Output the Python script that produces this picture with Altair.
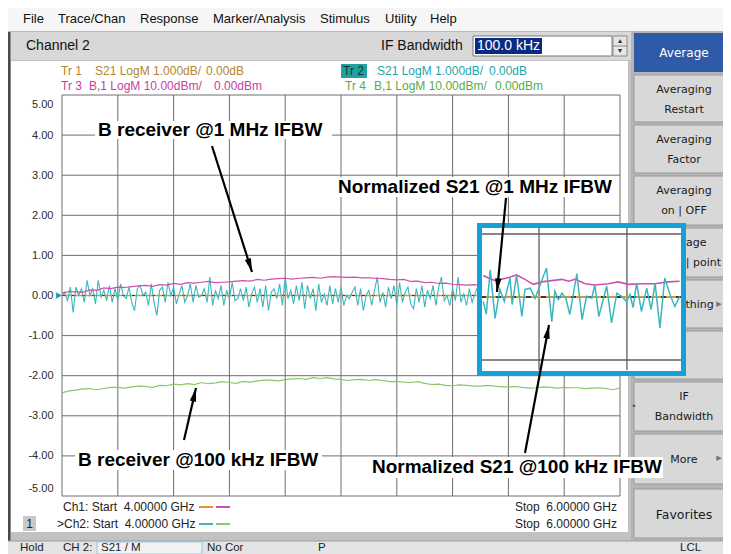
import math
import numpy as np
import pandas as pd
import altair as alt

# ------------------------------------------------------------------ values
start_ghz = 4.0
stop_ghz = 6.0
y_ticks = [5, 4, 3, 2, 1, 0, -1, -2, -3, -4, -5]
x_grid = [4.0, 4.2, 4.4, 4.6, 4.8, 5.0, 5.2, 5.4, 5.6, 5.8, 6.0]

# Tr 2 : normalized S21 (dB), 201-point sweep
tr2_part1 = [0.0, 0.08, -0.13, 0.21, -0.42, 0.21, 0.0, 0.17, -0.17, 0.38,
             0.0, 0.17, -0.21, 0.38, -0.04, 0.13, -0.13, 0.25, -0.17, 0.17,
             -0.13, 0.29, 0.0, -0.08, 0.21, -0.17, -0.38, 0.17, 0.25, 0.0,
             0.08, -0.25, 0.29, -0.17, -0.5, 0.13, 0.21, -0.17, 0.33, 0.0,
             0.21, -0.21, 0.04, 0.25, -0.17, 0.0, 0.29, -0.17, 0.25, -0.04]
tr2_part2 = [0.0, 0.17, -0.17, 0.46, -0.25, 0.13, -0.08, 0.25, -0.25, 0.13,
             -0.08, 0.33, -0.13, -0.08, 0.17, -0.13, 0.21, -0.29, 0.04, 0.21,
             -0.17, 0.17, -0.29, 0.25, -0.38, 0.08, 0.17, -0.08, 0.29, -0.25,
             0.46, -0.08, 0.13, -0.21, 0.25, -0.13, 0.33, -0.33, 0.25, -0.08,
             0.17, -0.38, 0.29, -0.17, 0.04, -0.25, 0.25, -0.21, 0.17, -0.17,
             0.21, -0.25]
tr2_part3 = [0.0, -0.08, 0.08, 0.21, -0.25, 0.17, -0.38, 0.0, 0.13, -0.25,
             0.13, 0.46, -0.17, 0.08, -0.29, 0.21, -0.08, 0.25, -0.25, 0.33,
             -0.17, 0.08, 0.21, -0.21, -0.33, 0.17, -0.17, 0.25, -0.29, 0.13,
             -0.08, 0.25, -0.25, 0.21, 0.46, -0.13, 0.0, -0.25, 0.17, -0.13,
             0.46, -0.17, 0.04, -0.25, 0.17, -0.17, 0.04, 0.21, 0.5, -0.21,
             0.13, 0.0, -0.17, 0.17, -0.08, 0.25, 0.0]
tr2_part4 = [-0.21, 0.29, -0.13, 0.17, -0.33, 0.21, 0.04, -0.25, 0.38, -0.17,
             0.08, -0.29, 0.25, -0.04, 0.13, -0.38, 0.29, -0.13, 0.21, -0.21,
             0.04, 0.33, -0.25, 0.13, -0.08, 0.25, -0.33, 0.17, -0.04, 0.21,
             -0.29, 0.08, 0.29, -0.21, 0.13, -0.17, 0.25, -0.08, 0.04, -0.25,
             0.17, 0.0]
tr2_s21 = tr2_part1 + tr2_part2 + tr2_part3 + tr2_part4

# Tr 3 : B receiver @ 1 MHz IFBW
tr3_b = [0.06, 0.10, 0.09, 0.08, 0.14, 0.13, 0.19, 0.17, 0.21, 0.20,
         0.22, 0.24, 0.25, 0.23, 0.27, 0.26, 0.30, 0.28, 0.32, 0.31,
         0.33, 0.35, 0.32, 0.33, 0.34, 0.36, 0.37, 0.36, 0.40, 0.38,
         0.41, 0.42, 0.43, 0.41, 0.43, 0.44, 0.45, 0.43, 0.46, 0.47,
         0.46, 0.45, 0.46, 0.44, 0.44, 0.43, 0.42, 0.40, 0.39, 0.40,
         0.35, 0.36, 0.32, 0.33, 0.30, 0.31, 0.28, 0.27, 0.26, 0.27,
         0.25, 0.27, 0.26, 0.28, 0.25, 0.26, 0.24, 0.27, 0.25, 0.26,
         0.24, 0.25, 0.27, 0.26, 0.25, 0.24, 0.26, 0.27, 0.25, 0.26, 0.25]

# Tr 4 : B receiver @ 100 kHz IFBW
tr4_b = [-2.43, -2.38, -2.36, -2.33, -2.32, -2.35, -2.32, -2.29, -2.29, -2.31,
         -2.28, -2.26, -2.27, -2.29, -2.24, -2.25, -2.21, -2.23, -2.20, -2.22,
         -2.17, -2.20, -2.18, -2.15, -2.17, -2.19, -2.14, -2.16, -2.13, -2.11,
         -2.11, -2.13, -2.10, -2.08, -2.07, -2.09, -2.05, -2.07, -2.05, -2.08,
         -2.09, -2.12, -2.10, -2.09, -2.12, -2.10, -2.12, -2.15, -2.14, -2.16,
         -2.17, -2.15, -2.19, -2.22, -2.21, -2.24, -2.25, -2.23, -2.24, -2.26,
         -2.26, -2.24, -2.26, -2.28, -2.28, -2.27, -2.29, -2.31, -2.30, -2.28,
         -2.29, -2.31, -2.29, -2.30, -2.30, -2.32, -2.31, -2.30, -2.32, -2.35, -2.30]

# Tr 1 : normalized S21 @ 100 kHz (flat)
tr1_freq = [4.0, 6.0]
tr1_s21 = [0.0, 0.0]

# magnified inset
inset_freq_s21 = [5.273, 5.280, 5.289, 5.300, 5.311, 5.321, 5.334, 5.339, 5.349, 5.361,
                  5.368, 5.380, 5.391, 5.417, 5.429, 5.436, 5.444, 5.452, 5.461, 5.470,
                  5.486, 5.498, 5.508, 5.520, 5.527, 5.536, 5.554, 5.565, 5.577, 5.588,
                  5.599, 5.607, 5.614, 5.622, 5.633, 5.645, 5.655, 5.664, 5.675, 5.686,
                  5.698, 5.709, 5.720]
inset_s21 = [-0.07, -0.27, 0.43, -0.34, 0.12, -0.07, 0.30, -0.12, 0.35, -0.31,
             0.12, 0.14, -0.02, 0.46, -0.39, 0.09, -0.04, 0.06, -0.02, -0.28,
             0.37, -0.36, 0.01, -0.02, 0.20, -0.31, 0.17, -0.41, 0.06, 0.01,
             -0.07, 0.04, -0.17, 0.22, -0.23, 0.14, -0.20, 0.22, -0.49, 0.30,
             0.04, -0.15, 0.01]
inset_freq_b = [5.273, 5.285, 5.300, 5.327, 5.349, 5.368, 5.387, 5.406, 5.429, 5.452,
                5.467, 5.482, 5.505, 5.527, 5.558, 5.580, 5.603, 5.633, 5.664, 5.694, 5.720]
inset_b = [0.34, 0.30, 0.26, 0.30, 0.35, 0.28, 0.20, 0.24, 0.26, 0.28,
           0.25, 0.28, 0.21, 0.19, 0.21, 0.24, 0.20, 0.21, 0.21, 0.24, 0.25]
inset_freq_span = [5.268, 5.723]
inset_db_span = [-1.159, 1.095]
inset_vgrid = [5.4, 5.6]
inset_hgrid = [-1.0, 1.0]

# ------------------------------------------------------------------ styles / layout
CYAN = "#3cb6bf"
MAGENTA = "#cf4fae"
GREEN = "#88c76c"
ORANGE = "#d8982e"
GRID = "#6e6e6e"
TR1C, TR2C, TR3C, TR4C = "#b38530", "#1fa5a8", "#c53f9f", "#55ad45"
SANS = "Liberation Sans"
UI = "DejaVu Sans"

OX, OY = 62, 95          # page position of plot-area origin
PW, PH = 558, 401         # plot area
TOTAL_W, TOTAL_H = 715, 546

ONE = pd.DataFrame({"k": [0]})


def box(x0, y0, x1, y1, fill, stroke=None, sw=1.0):
    kw = dict(fill=fill, opacity=1)
    if stroke:
        kw.update(stroke=stroke, strokeWidth=sw)
    else:
        kw.update(strokeWidth=0)
    return alt.Chart(ONE).mark_rect(**kw).encode(
        x=alt.value(x0 - OX), x2=alt.value(x1 - OX),
        y=alt.value(y0 - OY), y2=alt.value(y1 - OY))


def frame(x0, y0, x1, y1, stroke, sw):
    return alt.Chart(ONE).mark_rect(fill="transparent", stroke=stroke, strokeWidth=sw).encode(
        x=alt.value(x0 - OX), x2=alt.value(x1 - OX),
        y=alt.value(y0 - OY), y2=alt.value(y1 - OY))


def label(s, x, y, size=12, color="#111111", align="left", font=SANS, weight="normal"):
    return alt.Chart(ONE).mark_text(text=s, align=align, baseline="middle", fontSize=size,
                                    color=color, font=font, fontWeight=weight).encode(
        x=alt.value(x - OX), y=alt.value(y - OY))


def seg(x0, y0, x1, y1, color, width):
    return alt.Chart(ONE).mark_rule(color=color, strokeWidth=width).encode(
        x=alt.value(x0 - OX), y=alt.value(y0 - OY),
        x2=alt.value(x1 - OX), y2=alt.value(y1 - OY))


HEAD = "M0,0L0.4,1.7L-0.4,1.7Z"


def arrow(tail, tip):
    (x0, y0), (x1, y1) = tail, tip
    ang = math.degrees(math.atan2(x1 - x0, -(y1 - y0))) % 360
    head = alt.Chart(ONE).mark_point(shape=HEAD, size=256, filled=True, color="black",
                                     opacity=1, angle=ang).encode(
        x=alt.value(x1 - OX), y=alt.value(y1 - OY))
    return [seg(x0, y0, x1, y1, "black", 2.2), head]


# ------------------------------------------------------------------ background chrome
bg = [
    box(8, 8, 731, 31, "#f6f6f6"),
    seg(8, 31.5, 731, 31.5, "#b8b8b8", 1),
    box(8, 32, 631, 60, "#d8d8d8"),
    box(631, 31, 731, 541, "#b5b5b5"),
    box(8, 60, 631, 541, "#c2c2c2"),
    box(11, 61, 628, 532, "white"),
    box(8, 32, 10.5, 541, "#4a4a4a"),
    box(8, 541, 731, 554, "#e4e4e4"),
    seg(8, 541, 731, 541, "#9c9c9c", 1),
]
menu = [("File", 23), ("Trace/Chan", 58), ("Response", 140), ("Marker/Analysis", 213),
        ("Stimulus", 320), ("Utility", 385), ("Help", 430)]
for name, mx in menu:
    bg.append(label(name, mx, 19, 13))
bg += [
    label("Channel 2", 26, 46, 14),
    label("IF Bandwidth", 381, 46, 14),
    box(473, 36, 612, 56, "white", "#7a7a7a", 1),
    box(475, 38, 542, 54, "#0b2a82"),
    label("100.0 kHz", 477, 46, 14, "white"),
    box(613, 36, 627, 56, "#e6e6e6", "#8a8a8a", 1),
    seg(613, 46, 627, 46, "#8a8a8a", 1),
    label("▴", 620, 41, 8, "#333333", "center", UI),
    label("▾", 620, 51, 8, "#333333", "center", UI),
]
# softkey panel
buttons = [
    (33, 72, ["Average"]),
    (75, 122, ["Averaging", "Restart"]),
    (125, 173, ["Averaging", "Factor"]),
    (176, 225, ["Averaging", "on | OFF"]),
    (228, 277, ["Average", "sweep | point"]),
    (280, 328, ["Smoothing"]),
    (331, 379, []),
    (382, 431, ["IF", "Bandwidth"]),
    (434, 484, ["More"]),
    (489, 538, ["Favorites"]),
]
for i, (b0, b1, lines) in enumerate(buttons):
    if i == 0:
        bg.append(box(634, b0, 731, b1, "#2f5aa7"))
        bg.append(label(lines[0], 684, (b0 + b1) / 2, 12, "white", "center", UI))
        continue
    bg.append(box(634, b0, 731, b1, "#d8d8d8", "#9a9a9a", 1))
    if len(lines) == 2:
        bg.append(label(lines[0], 684, b0 + 15, 11, "#1a1a1a", "center", UI))
        bg.append(label(lines[1], 684, b0 + 35, 11, "#1a1a1a", "center", UI))
    elif len(lines) == 1:
        sz = 12.5 if lines[0] == "Favorites" else 11
        bg.append(label(lines[0], 684, (b0 + b1) / 2 + 1, sz, "#1a1a1a", "center", UI))
bg.append(label("▸", 719, 304, 11, "#777777", "center", UI))
bg.append(label("▸", 719, 458, 11, "#777777", "center", UI))
bg.append(label("•", 634, 406, 9, "#555555", "center", UI))
# status bar
bg += [
    label("Hold", 20, 548, 11.5, "#222222"),
    label("CH 2:", 63, 548, 11.5, "#222222"),
    box(97, 542, 202, 554, "#f2f2f2", "#8ccbe0", 1),
    label("S21 / M", 101, 548, 11.5, "#222222"),
    label("No Cor", 207, 548, 11.5, "#222222"),
    label("P", 318, 548, 11.5, "#222222"),
    label("LCL", 680, 548, 11.5, "#222222"),
]

# ------------------------------------------------------------------ main graticule + traces
XS = alt.Scale(domain=[start_ghz, stop_ghz], nice=False, zero=False)
YS = alt.Scale(domain=[-5, 5], nice=False, zero=False)
X = alt.X("f:Q", scale=XS, axis=None)
Y = alt.Y("v:Q", scale=YS, axis=alt.Axis(
    values=y_ticks, grid=False, ticks=False, domain=False, title=None,
    labelExpr="replace(format(datum.value, '.2f'), '\u2212', '-')",
    labelFlush=True, labelFlushOffset=-3, labelFont=SANS, labelFontSize=11,
    labelColor="#2a2a2a", labelPadding=9, zindex=1))

df_xg = pd.DataFrame({"f": x_grid})
df_yg = pd.DataFrame({"v": y_ticks})
df_tr2 = pd.DataFrame({"f": np.linspace(start_ghz, stop_ghz, len(tr2_s21)), "v": tr2_s21})
df_tr3 = pd.DataFrame({"f": np.linspace(start_ghz, stop_ghz, len(tr3_b)), "v": tr3_b})
df_tr4 = pd.DataFrame({"f": np.linspace(start_ghz, stop_ghz, len(tr4_b)), "v": tr4_b})
df_tr1 = pd.DataFrame({"f": tr1_freq, "v": tr1_s21})
df_mk = pd.DataFrame({"f": [start_ghz], "v": [0.0]})

main = alt.layer(
    alt.Chart(df_yg).mark_rule(color=GRID, strokeWidth=1).encode(y=Y),
    alt.Chart(df_xg).mark_rule(color=GRID, strokeWidth=1).encode(x=X),
    alt.Chart(df_tr4).mark_line(color=GREEN, strokeWidth=1.2).encode(x=X, y=Y),
    alt.Chart(df_tr1).mark_line(color=ORANGE, strokeWidth=1.6).encode(x=X, y=Y),
    alt.Chart(df_tr1).mark_line(color="#3a3a3a", strokeWidth=1.2, strokeDash=[3, 7]).encode(x=X, y=Y),
    alt.Chart(df_tr2).mark_line(color=CYAN, strokeWidth=1.1).encode(x=X, y=Y),
    alt.Chart(df_tr3).mark_line(color=MAGENTA, strokeWidth=1.2).encode(x=X, y=Y),
    alt.Chart(df_mk).mark_point(shape="triangle-right", filled=True, size=45, color="#1a9fa3",
                                opacity=1).encode(x=alt.value(-3), y=Y),
)

# ------------------------------------------------------------------ magnified inset
XIS = alt.Scale(domain=inset_freq_span, range=[481 - OX, 681 - OX], nice=False, zero=False)
YIS = alt.Scale(domain=inset_db_span, range=[370 - OY, 228 - OY], nice=False, zero=False)
XI = alt.X("f:Q", scale=XIS, axis=None)
YI = alt.Y("v:Q", scale=YIS, axis=None)

df_ivg = pd.DataFrame({"f": inset_vgrid, "v": [inset_db_span[0]] * 2, "v2": [inset_db_span[1]] * 2})
df_ihg = pd.DataFrame({"v": inset_hgrid, "f": [inset_freq_span[0]] * 2, "f2": [inset_freq_span[1]] * 2})
df_i0 = pd.DataFrame({"f": inset_freq_span, "v": [0.0, 0.0]})
df_is = pd.DataFrame({"f": inset_freq_s21, "v": inset_s21})
df_ib = pd.DataFrame({"f": inset_freq_b, "v": inset_b})

inset = alt.layer(
    alt.Chart(df_ivg).mark_rule(color="#5e5e5e", strokeWidth=1.3).encode(x=XI, y=YI, y2="v2:Q"),
    alt.Chart(df_ihg).mark_rule(color="#5e5e5e", strokeWidth=1.3).encode(y=YI, x=XI, x2="f2:Q"),
    alt.Chart(df_i0).mark_line(color=ORANGE, strokeWidth=2).encode(x=XI, y=YI),
    alt.Chart(df_i0).mark_line(color="#3a3a3a", strokeWidth=1.8, strokeDash=[5, 10]).encode(x=XI, y=YI),
    alt.Chart(df_ib).mark_line(color=MAGENTA, strokeWidth=1.6).encode(x=XI, y=YI),
    alt.Chart(df_is).mark_line(color=CYAN, strokeWidth=1.5).encode(x=XI, y=YI),
)

# ------------------------------------------------------------------ foreground text / annotations
fg = [
    label("Tr 1", 61, 71, 12, TR1C),
    label("S21 LogM 1.000dB/", 95, 71, 12, TR1C),
    label("0.00dB", 206, 71, 12, TR1C),
    box(341, 64, 367, 78, "#22a0a0"),
    label("Tr 2", 343, 71, 12, "#0d3535"),
    label("S21 LogM 1.000dB/", 377, 71, 12, TR2C),
    label("0.00dB", 489, 71, 12, TR2C),
    label("Tr 3", 61, 86, 12, TR3C),
    label("B,1 LogM 10.00dBm/", 89, 86, 12, TR3C),
    label("0.00dBm", 214, 86, 12, TR3C),
    label("Tr 4", 345, 86, 12, TR4C),
    label("B,1 LogM 10.00dBm/", 374, 86, 12, TR4C),
    label("0.00dBm", 495, 86, 12, TR4C),
    label("Ch1: Start\u00a0 4.00000 GHz", 63, 507, 12, "#222222"),
    seg(199, 507, 213, 507, ORANGE, 2),
    seg(216, 507, 230, 507, MAGENTA, 2),
    label(">Ch2: Start\u00a0 4.00000 GHz", 57, 524, 12, "#222222"),
    seg(199, 524, 213, 524, CYAN, 2),
    seg(216, 524, 230, 524, GREEN, 2),
    label("Stop\u00a0 6.00000 GHz", 617, 507, 12, "#222222", "right"),
    label("Stop\u00a0 6.00000 GHz", 617, 524, 12, "#222222", "right"),
    box(23, 516, 36, 531, "#c8c8c8"),
    label("1", 29.5, 523.5, 12, "#222222", "center"),
]

annotations = [
    ("B receiver @1 MHz IFBW", 98, 130, (95, 121, 332, 139)),
    ("Normalized S21 @1 MHz IFBW", 338, 187, (335, 177, 614, 197)),
    ("B receiver @100 kHz IFBW", 78, 460, (75, 450, 322, 470)),
    ("Normalized S21 @100 kHz IFBW", 372, 467, (369, 457, 663, 478)),
]
arrows = [((212, 146), (252, 272)), ((506, 198), (497, 292)),
          ((184, 440), (196, 388)), ((525, 453), (549, 325))]

ann_layers = []
for text, tx, ty, (b0, b1, b2, b3) in annotations:
    ann_layers.append(box(b0, b1, b2, b3, "white"))
    ann_layers.append(label(text, tx, ty, 19, "black", "left", SANS, "bold"))
for t, h in arrows:
    ann_layers += arrow(t, h)

layers = (bg
          + [main, box(479.5, 225.5, 683.5, 373.5, "white"), inset,
             frame(479.5, 225.5, 683.5, 373.5, "#16a0d8", 5)]
          + fg + ann_layers)

chart = alt.layer(*layers).resolve_scale(x="independent", y="independent").properties(
    width=PW, height=PH,
    padding={"left": OX - 8, "top": OY - 8,
             "right": TOTAL_W - (OX - 8) - PW, "bottom": TOTAL_H - (OY - 8) - PH},
    autosize=alt.AutoSizeParams(type="none"),
).configure(background="#d9d9d9").configure_view(stroke=None)

chart.save("out.html", embed_options={"renderer": "svg", "actions": False})
